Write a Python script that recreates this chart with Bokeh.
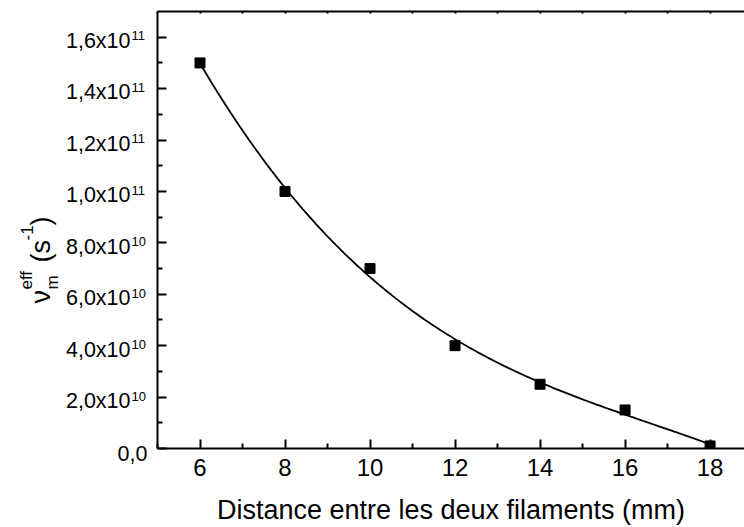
import numpy as np
from bokeh.plotting import figure
from bokeh.layouts import row
from bokeh.models import LinearAxis, FixedTicker, Range1d
from bokeh.core.properties import value
from bokeh.embed import file_html
from bokeh.resources import INLINE

# ---- data ----
distance_mm = [6, 8, 10, 12, 14, 16, 18]
nu_eff = [1.50e11, 1.00e11, 7.00e10, 4.00e10, 2.50e10, 1.50e10, 0.10e10]

x_ticks = [6, 8, 10, 12, 14, 16, 18]
x_minor = [5, 7, 9, 11, 13, 15, 17]
x_top_ticks = [5, 6, 7, 8, 9, 10, 11, 12, 13, 14, 15, 16, 17, 18]

y_ticks = [0.0, 2e10, 4e10, 6e10, 8e10, 1.0e11, 1.2e11, 1.4e11, 1.6e11]
y_minor = [1e10, 3e10, 5e10, 7e10, 9e10, 1.1e11, 1.3e11, 1.5e11]
y_tick_mant = ["0,0", "2,0x10", "4,0x10", "6,0x10", "8,0x10",
               "1,0x10", "1,2x10", "1,4x10", "1,6x10"]
y_tick_exp = ["", "10", "10", "10", "10", "11", "11", "11", "11"]

x_title = "Distance entre les deux filaments (mm)"
y_title_parts = ["ν", "m", "eff", "(s", "-1", ")"]

Y_MAX = 1.7e11
FONT = "Liberation Sans"
W, H = 744, 527
FRAME_TOP, FRAME_BOTTOM, FRAME_LEFT = 11, 449, 157
STRIP_W = 153                      # left strip: y tick labels + y title
K = Y_MAX / (FRAME_BOTTOM - FRAME_TOP)   # data units per pixel

# ---- fitted curve (cubic polynomial fit of the measured points) ----
coef = np.polyfit(distance_mm, nu_eff, 3)
xf = np.linspace(min(distance_mm), max(distance_mm), 200)
yf = np.polyval(coef, xf)

p = figure(width=W - STRIP_W, height=H, output_backend="svg", toolbar_location=None,
           x_range=Range1d(5, 18.81), y_range=Range1d(0, Y_MAX),
           min_border_left=FRAME_LEFT - STRIP_W, min_border_right=0,
           min_border_top=FRAME_TOP, min_border_bottom=H - FRAME_BOTTOM)
p.outline_line_color = None
p.grid.visible = False

p.line(xf, yf, line_color="black", line_width=1.8)
p.scatter(distance_mm, nu_eff, marker="square", size=10, color="black")

# bottom axis
xa = p.xaxis[0]
xa.ticker = FixedTicker(ticks=x_ticks, minor_ticks=x_minor)
xa.axis_line_width = 2
xa.major_tick_line_width = 2
xa.minor_tick_line_width = 2
xa.major_tick_in = 9
xa.major_tick_out = 0
xa.minor_tick_in = 5
xa.minor_tick_out = 0
xa.major_label_text_font = FONT
xa.major_label_text_font_size = "24px"
xa.major_label_text_color = "black"
xa.major_label_standoff = 10
xa.axis_label = x_title
xa.axis_label_text_font = FONT
xa.axis_label_text_font_size = "27px"
xa.axis_label_text_font_style = "normal"
xa.axis_label_text_color = "black"
xa.axis_label_standoff = 16

# left axis (its labels are drawn in the strip, with real superscripts)
ya = p.yaxis[0]
ya.ticker = FixedTicker(ticks=y_ticks, minor_ticks=y_minor)
ya.axis_line_width = 2
ya.major_tick_line_width = 2
ya.minor_tick_line_width = 2
ya.major_tick_in = 9
ya.major_tick_out = 0
ya.minor_tick_in = 5
ya.minor_tick_out = 0
ya.major_label_overrides = {v: "" for v in y_ticks}
ya.major_label_standoff = 0

# top axis (ticks only)
top = LinearAxis(ticker=FixedTicker(ticks=x_top_ticks, minor_ticks=[]))
top.axis_line_width = 2
top.major_tick_line_width = 2
top.major_tick_in = 2
top.major_tick_out = 0
top.minor_tick_in = 0
top.minor_tick_out = 0
top.major_label_overrides = {v: "" for v in x_top_ticks}
top.major_label_standoff = 0
p.add_layout(top, "above")

# ---- left strip, same vertical scale as the plot ----
t = figure(width=STRIP_W, height=H, output_backend="svg", toolbar_location=None,
           x_range=Range1d(0, STRIP_W),
           y_range=Range1d(-(H - FRAME_BOTTOM) * K, Y_MAX + FRAME_TOP * K),
           x_axis_type=None, y_axis_type=None,
           min_border_left=0, min_border_right=0, min_border_top=0,
           min_border_bottom=0)
if "frame_align" in t.properties():
    t.frame_align = False
else:
    t.y_range = Range1d(0, Y_MAX)
t.outline_line_color = None
t.grid.visible = False

# y tick labels: mantissa + raised exponent
mant_x = [FRAME_LEFT - 10 if e == "" else 130 for e in y_tick_exp]
t.text(x=mant_x, y=[v - 3.5 * K for v in y_ticks], text=y_tick_mant,
       text_align="right", text_baseline="alphabetic",
       text_font=value(FONT), text_font_size=value("21.5px"), text_color="black")
t.text(x=[131] * len(y_ticks), y=[v + 1.5 * K for v in y_ticks], text=y_tick_exp,
       text_align="left", text_baseline="alphabetic",
       text_font=value(FONT), text_font_size=value("13px"), text_color="black")

# rotated y title
def page_y(py):
    return Y_MAX + FRAME_TOP * K - py * K

part_x = [40, 52, 26, 40, 26, 40]          # baseline position (px)
part_y = [303, 289, 289, 262, 240, 225]    # start of each piece (px from top)
part_size = ["27px", "17px", "17px", "27px", "17px", "27px"]
for txt, bx, sy, fs in zip(y_title_parts, part_x, part_y, part_size):
    t.text(x=[bx], y=[page_y(sy)], text=[txt], angle=np.pi / 2,
           text_align="left", text_baseline="alphabetic",
           text_font=value(FONT), text_font_size=value(fs), text_color="black")

layout = row(t, p)
open("out.html", "w").write(file_html(layout, INLINE))
